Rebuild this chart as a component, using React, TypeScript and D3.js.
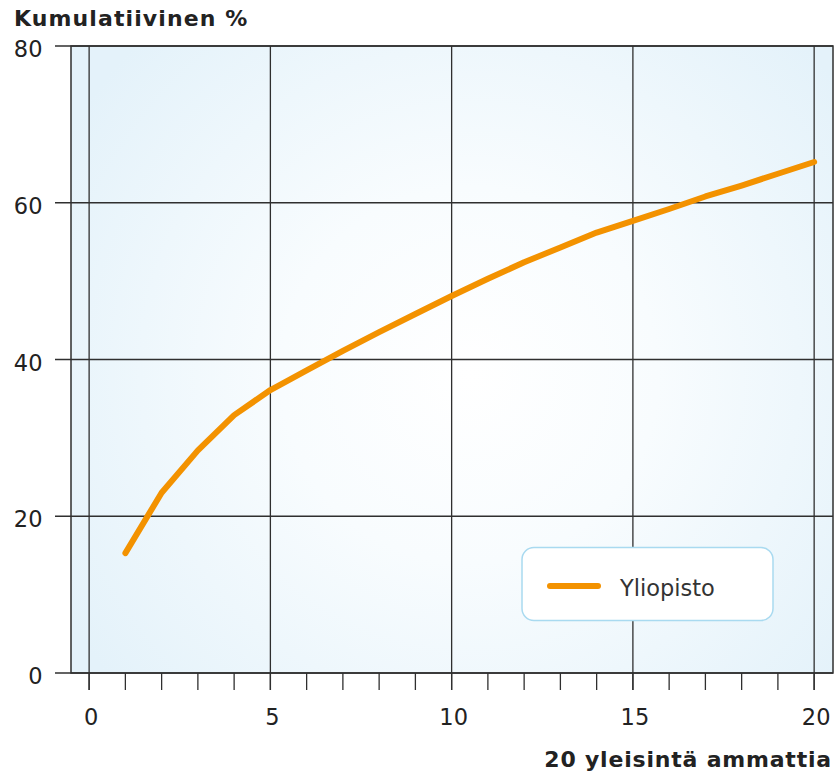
import React from "react";
import * as d3 from "d3";

const positions = [1, 2, 3, 4, 5, 6, 7, 8, 9, 10, 11, 12, 13, 14, 15, 16, 17, 18, 19, 20];
const yliopisto = [15.3, 23.0, 28.4, 32.9, 36.1, 38.6, 41.1, 43.5, 45.8, 48.1, 50.3, 52.4, 54.3, 56.2, 57.7, 59.2, 60.8, 62.2, 63.7, 65.2];
const xTicks = [0, 5, 10, 15, 20];
const xMinorTicks = d3.range(0, 21);
const yTicks = [0, 20, 40, 60, 80];
const seriesName = "Yliopisto";
const yTitle = "Kumulatiivinen %";
const xTitle = "20 yleisintä ammattia";

const W = 834;
const H = 776;
const left = 71;
const right = 833;
const top = 46;
const bottom = 673;

export default function App() {
  const x = d3.scaleLinear().domain([-0.5, 20.52]).range([left, right]);
  const y = d3.scaleLinear().domain([0, 80]).range([bottom, top]);
  const line = d3
    .line<number>()
    .x((_, i) => x(positions[i]))
    .y((d) => y(d));
  const font = "'DejaVu Sans', Verdana, sans-serif";
  const grid = "#2f2f2f";
  return (
    <svg width={W} height={H} style={{ position: "absolute", left: 0, top: 0, display: "block" }}>
      <defs>
        <radialGradient id="bg" cx={x(10.5)} cy={y(38)} r={470} gradientUnits="userSpaceOnUse">
          <stop offset="0" stopColor="#ffffff" />
          <stop offset="0.4" stopColor="#f8fcfe" />
          <stop offset="1" stopColor="#e4f2fa" />
        </radialGradient>
      </defs>
      <rect x={left} y={top} width={right - left} height={bottom - top} fill="url(#bg)" />
      {/* vertical grid */}
      {xTicks.map((t) => (
        <line key={"vg" + t} x1={x(t)} x2={x(t)} y1={top} y2={bottom + 17} stroke={grid} strokeWidth={1.3} />
      ))}
      {/* horizontal grid */}
      {yTicks.map((t) => (
        <line key={"hg" + t} x1={left - 16} x2={right} y1={y(t)} y2={y(t)} stroke={grid} strokeWidth={1.3} />
      ))}
      {/* minor x ticks */}
      {xMinorTicks.map((t) => (
        <line key={"mt" + t} x1={x(t)} x2={x(t)} y1={bottom} y2={bottom + 17} stroke={grid} strokeWidth={1.3} />
      ))}
      {/* frame */}
      <rect x={left} y={top} width={right - left} height={bottom - top} fill="none" stroke={grid} strokeWidth={1.5} />
      {/* y labels */}
      {yTicks.map((t) => (
        <text key={"yl" + t} x={42.5} y={y(t) + 11} textAnchor="end" fontFamily={font} fontSize={22.5} fill="#222">
          {t}
        </text>
      ))}
      {xTicks.map((t) => (
        <text key={"xl" + t} x={x(t) + 2} y={725} textAnchor="middle" fontFamily={font} fontSize={22.5} fill="#222">
          {t}
        </text>
      ))}
      <text x={14} y={26} fontFamily={font} fontWeight="bold" fontSize={22} letterSpacing={1.1} fill="#222">
        {yTitle}
      </text>
      <text x={832} y={767} textAnchor="end" fontFamily={font} fontWeight="bold" fontSize={22} letterSpacing={0.8} fill="#222">
        {xTitle}
      </text>
      <path d={line(yliopisto) ?? ""} fill="none" stroke="#f39200" strokeWidth={6} strokeLinejoin="round" strokeLinecap="round" />
      {/* legend */}
      <rect x={522} y={547.5} width={251} height={73} rx={12} fill="#ffffff" stroke="#a9daf0" strokeWidth={1.5} />
      <line x1={550} x2={598} y1={586} y2={586} stroke="#f39200" strokeWidth={6} strokeLinecap="round" />
      <text x={620} y={596} fontFamily={font} fontSize={22.5} fill="#333">
        {seriesName}
      </text>
    </svg>
  );
}
